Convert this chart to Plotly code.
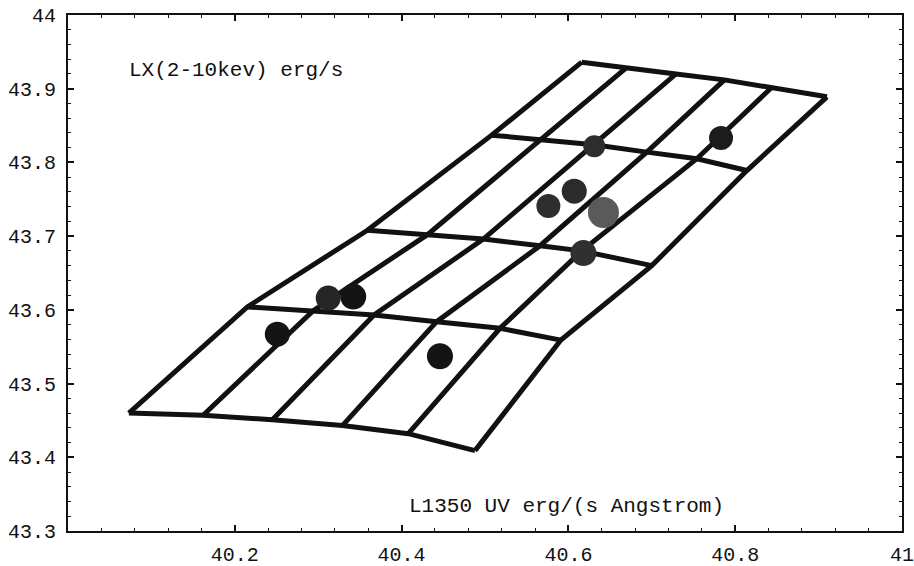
import plotly.graph_objects as go

# ---- grid nodes: each column (diagonal line) listed from bottom row to top row ----
grid_x = [
    [40.073, 40.215, 40.359, 40.508, 40.616],
    [40.162, 40.294, 40.431, 40.567, 40.669],
    [40.245, 40.367, 40.498, 40.631, 40.729],
    [40.329, 40.442, 40.566, 40.694, 40.787],
    [40.408, 40.518, 40.616, 40.754, 40.844],
    [40.488, 40.591, 40.700, 40.814, 40.910],
]
grid_y = [
    [43.460, 43.604, 43.708, 43.837, 43.936],
    [43.457, 43.599, 43.702, 43.831, 43.928],
    [43.451, 43.593, 43.696, 43.824, 43.920],
    [43.443, 43.584, 43.687, 43.814, 43.912],
    [43.432, 43.575, 43.680, 43.805, 43.902],
    [43.409, 43.559, 43.660, 43.789, 43.889],
]

# ---- observed sources ----
pt_x = [40.251, 40.342, 40.312, 40.446, 40.783, 40.631, 40.576, 40.607, 40.642, 40.618]
pt_y = [43.567, 43.618, 43.616, 43.537, 43.833, 43.822, 43.741, 43.761, 43.732, 43.677]
pt_size = [25, 26, 25, 26, 24, 22, 24, 25, 31, 26]
pt_color = ["#141414", "#141414", "#262626", "#141414", "#1c1c1c",
            "#2e2e2e", "#2e2e2e", "#2b2b2b", "#5a5a5a", "#303030"]

x_ticks = [40.2, 40.4, 40.6, 40.8, 41.0]
x_ticktext = ["40.2", "40.4", "40.6", "40.8", "41"]
y_ticks = [43.3, 43.4, 43.5, 43.6, 43.7, 43.8, 43.9, 44.0]
y_ticktext = ["43.3", "43.4", "43.5", "43.6", "43.7", "43.8", "43.9", "44"]

y_label = "LX(2-10kev) erg/s"
x_label = "L1350 UV erg/(s Angstrom)"

FONT = "Liberation Mono"
INK = "#111111"

fig = go.Figure()

line_style = dict(color=INK, width=5)
n_cols = len(grid_x)
n_rows = len(grid_x[0])
for c in range(n_cols):
    fig.add_trace(go.Scatter(x=grid_x[c], y=grid_y[c], mode="lines",
                             line=line_style, hoverinfo="skip", showlegend=False))
for r in range(n_rows):
    fig.add_trace(go.Scatter(x=[grid_x[c][r] for c in range(n_cols)],
                             y=[grid_y[c][r] for c in range(n_cols)],
                             mode="lines", line=line_style,
                             hoverinfo="skip", showlegend=False))

fig.add_trace(go.Scatter(x=pt_x, y=pt_y, mode="markers",
                         marker=dict(size=pt_size, color=pt_color, opacity=1,
                                     line=dict(width=0)),
                         showlegend=False))

fig.add_annotation(x=40.0707, y=43.925, xref="x", yref="y", text=y_label,
                   showarrow=False, xanchor="left", yanchor="middle",
                   font=dict(family=FONT, size=21, color=INK))
fig.add_annotation(x=40.4065, y=43.3326, xref="x", yref="y", text=x_label,
                   showarrow=False, xanchor="left", yanchor="middle",
                   font=dict(family=FONT, size=21, color=INK))

axis_common = dict(showgrid=False, zeroline=False, showline=True,
                   linecolor=INK, linewidth=2, mirror="ticks",
                   ticks="inside", ticklen=6, tickwidth=1.5, tickcolor=INK,
                   tickfont=dict(family=FONT, size=20, color=INK),
                   ticklabeloverflow="allow", automargin=False)

fig.update_xaxes(range=[40, 41], tickvals=x_ticks, ticktext=x_ticktext,
                 minor=dict(ticks="inside", ticklen=3, tick0=40, dtick=0.04,
                            tickcolor=INK, tickwidth=1),
                 ticklabelstandoff=4, **axis_common)
fig.update_yaxes(range=[43.3, 44], tickvals=y_ticks, ticktext=y_ticktext,
                 minor=dict(ticks="inside", ticklen=3, tick0=43.3, dtick=0.02,
                            tickcolor=INK, tickwidth=1),
                 ticklabelstandoff=6, **axis_common)

fig.update_layout(width=914, height=566,
                  margin=dict(l=68, r=12, t=15, b=35),
                  paper_bgcolor="white", plot_bgcolor="white")

fig.write_html("out.html", config={"displayModeBar": False},
               post_script="document.body.style.margin='0';document.body.style.overflow='hidden';")
